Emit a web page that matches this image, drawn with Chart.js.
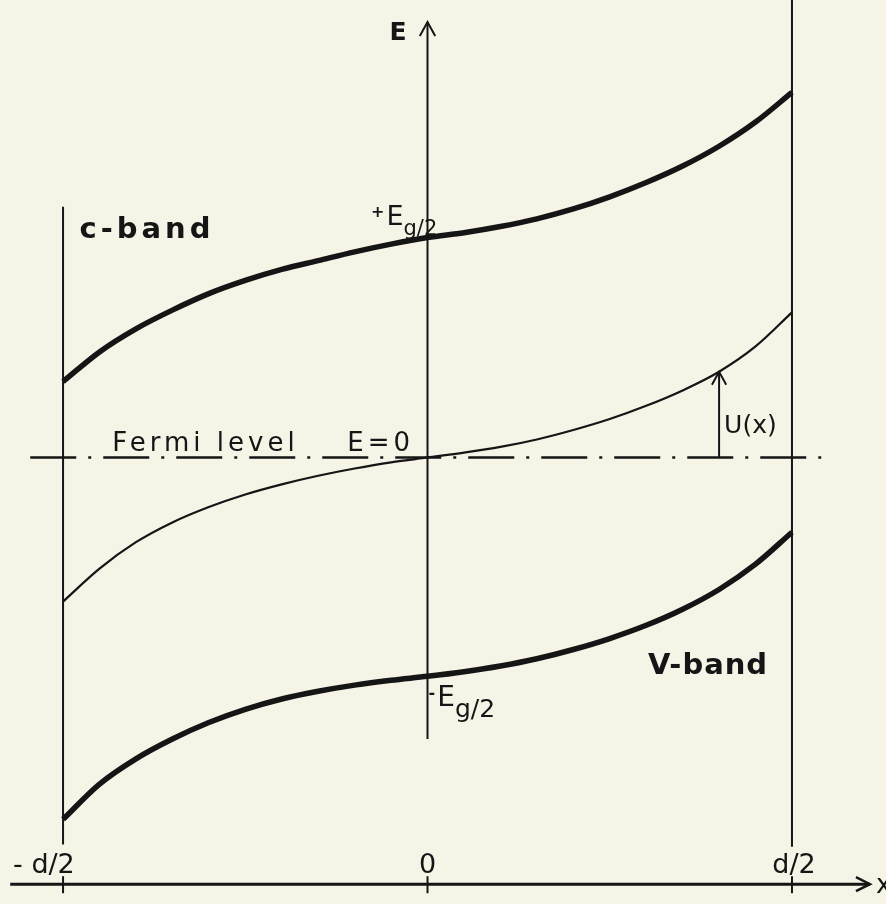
<!DOCTYPE html>
<html>
<head>
<meta charset="utf-8">
<script src="https://cdn.jsdelivr.net/npm/chart.js@4.4.1/dist/chart.umd.min.js"></script>
<style>
  html, body { margin: 0; padding: 0; background: #f6f4e7; }
  canvas { display: block; }
</style>
</head>
<body>
<canvas id="bandChart" width="886" height="904"></canvas>
<script>
// position x en unités de d/2
const xPos = [-1, -0.9, -0.8, -0.7, -0.6, -0.5, -0.4, -0.3, -0.2, -0.1, 0,
              0.1, 0.2, 0.3, 0.4, 0.5, 0.6, 0.7, 0.8, 0.9, 1];
// énergies en unités de Eg/2
const cBand = [0.345, 0.48, 0.585, 0.67, 0.745, 0.805, 0.855, 0.895, 0.935, 0.97, 1.0,
               1.022, 1.05, 1.085, 1.13, 1.185, 1.25, 1.325, 1.415, 1.525, 1.66];
const uLevel = [-0.655, -0.505, -0.385, -0.295, -0.225, -0.168, -0.122, -0.083, -0.05, -0.022, 0,
                0.022, 0.048, 0.082, 0.125, 0.175, 0.235, 0.305, 0.39, 0.505, 0.66];
const vBand = [-1.645, -1.485, -1.37, -1.28, -1.205, -1.145, -1.098, -1.063, -1.035, -1.013, -0.995,
               -0.974, -0.948, -0.915, -0.873, -0.823, -0.763, -0.69, -0.6, -0.485, -0.34];
const xTickLabels = ['- d/2', '0', 'd/2'];
const xTickValues = [-1, 0, 1];
const uArrowIndex = 18; // flèche U(x) à x = 0.8

const ink = '#151515';

function toPoints(ys) {
    return xPos.map((x, i) => ({ x: x, y: ys[i] }));
}

function arrowHead(ctx, x, y, dir, size) {
    // dir: 'up' ou 'right'
    ctx.beginPath();
    if (dir === 'up') {
        ctx.moveTo(x - size * 0.55, y + size);
        ctx.lineTo(x, y);
        ctx.lineTo(x + size * 0.55, y + size);
    } else {
        ctx.moveTo(x - size, y - size * 0.5);
        ctx.lineTo(x, y);
        ctx.lineTo(x - size, y + size * 0.5);
    }
    ctx.stroke();
}

function subLabel(ctx, sign, x, y, big, small) {
    // E avec indice g/2
    ctx.textBaseline = 'alphabetic';
    ctx.textAlign = 'left';
    let cx = x;
    if (sign) {
        ctx.font = 'bold 16px "DejaVu Sans"';
        ctx.fillText(sign, cx, y - 8);
        cx += ctx.measureText(sign).width + 2;
    }
    ctx.font = big + 'px "DejaVu Sans"';
    ctx.fillText('E', cx, y);
    cx += ctx.measureText('E').width;
    ctx.font = small + 'px "DejaVu Sans"';
    ctx.fillText('g/2', cx, y + small * 0.45);
}

const schemaPlugin = {
    id: 'schema',
    beforeDraw(chart) {
        const ctx = chart.ctx;
        ctx.save();
        ctx.fillStyle = '#f6f4e7';
        ctx.fillRect(0, 0, chart.width, chart.height);
        ctx.restore();
    },
    beforeDatasetsDraw(chart) {
        const ctx = chart.ctx;
        const sx = chart.scales.x, sy = chart.scales.y;
        const px = v => sx.getPixelForValue(v);
        const py = v => sy.getPixelForValue(v);
        ctx.save();
        ctx.strokeStyle = ink;
        ctx.lineCap = 'butt';

        // bords du film x = -d/2 et x = d/2
        ctx.lineWidth = 2;
        ctx.beginPath();
        ctx.moveTo(px(-1), py(1.14)); ctx.lineTo(px(-1), py(-1.76));
        ctx.moveTo(px(1), py(2.1)); ctx.lineTo(px(1), py(-1.77));
        ctx.stroke();

        // axe E
        ctx.beginPath();
        ctx.moveTo(px(0), py(1.98)); ctx.lineTo(px(0), py(-1.28));
        ctx.stroke();
        arrowHead(ctx, px(0), py(1.98), 'up', 14);

        // niveau de Fermi (tiret-point)
        ctx.lineWidth = 2.5;
        ctx.setLineDash([46, 12, 3, 12]);
        ctx.beginPath();
        ctx.moveTo(px(-1.09), py(0)); ctx.lineTo(px(1.104), py(0));
        ctx.stroke();
        ctx.setLineDash([]);

        // axe x
        ctx.lineWidth = 3;
        const yAx = py(-1.94);
        ctx.beginPath();
        ctx.moveTo(px(-1.145), yAx); ctx.lineTo(px(1.214), yAx);
        ctx.stroke();
        ctx.lineWidth = 2.5;
        arrowHead(ctx, px(1.214), yAx, 'right', 14);
        ctx.lineWidth = 2;
        xTickValues.forEach(v => {
            ctx.beginPath();
            ctx.moveTo(px(v), yAx - 8); ctx.lineTo(px(v), yAx + 9);
            ctx.stroke();
        });
        ctx.restore();
    },
    afterDatasetsDraw(chart) {
        const ctx = chart.ctx;
        const sx = chart.scales.x, sy = chart.scales.y;
        const px = v => sx.getPixelForValue(v);
        const py = v => sy.getPixelForValue(v);
        ctx.save();
        ctx.fillStyle = ink;
        ctx.strokeStyle = ink;

        // flèche U(x)
        ctx.lineWidth = 2;
        arrowHead(ctx, px(xPos[uArrowIndex]), py(uLevel[uArrowIndex]), 'up', 13);

        // graduations
        ctx.font = '27px "DejaVu Sans"';
        ctx.textBaseline = 'alphabetic';
        const yLab = py(-1.94) - 11;
        ctx.textAlign = 'left';
        ctx.fillText(xTickLabels[0], px(-1) - 50, yLab);
        ctx.textAlign = 'center';
        ctx.fillText(xTickLabels[1], px(0), yLab);
        ctx.fillText(xTickLabels[2], px(1) + 2, yLab);
        ctx.textAlign = 'left';
        ctx.font = '26px "DejaVu Sans"';
        ctx.fillText('x', px(1.214) + 6, py(-1.94) + 9);

        // axe E
        ctx.font = 'bold 25px "DejaVu Sans"';
        ctx.fillText('E', px(0) - 38, py(1.9));

        // bandes
        ctx.font = 'bold 29px "DejaVu Sans"';
        ctx.letterSpacing = '4px';
        ctx.fillText('c-band', px(-0.955), py(1.0));
        ctx.letterSpacing = '1px';
        ctx.fillText('V-band', px(0.605), py(-0.985));
        ctx.letterSpacing = '0px';

        // +Eg/2 et -Eg/2
        subLabel(ctx, '+', px(-0.155), py(1.055), 27, 21);
        subLabel(ctx, '-', px(0.003), py(-1.13), 28, 25);

        // U(x)
        ctx.font = '25px "DejaVu Sans"';
        ctx.fillText('U(x)', px(xPos[uArrowIndex]) + 5, py(0.11));

        // Fermi level / E=0
        ctx.font = '26px "DejaVu Sans"';
        ctx.letterSpacing = '4px';
        ctx.fillText('Fermi level', px(-0.865), py(0.03));
        ctx.fillText('E=0', px(-0.22), py(0.03));
        ctx.restore();
    }
};

const config = {
    type: 'line',
    data: {
        datasets: [
            {
                label: 'c-band',
                data: toPoints(cBand),
                borderColor: ink,
                borderWidth: 5.5,
                pointRadius: 0,
                cubicInterpolationMode: 'monotone'
            },
            {
                label: 'U(x)',
                data: toPoints(uLevel),
                borderColor: ink,
                borderWidth: 2.2,
                pointRadius: 0,
                cubicInterpolationMode: 'monotone'
            },
            {
                label: 'V-band',
                data: toPoints(vBand),
                borderColor: ink,
                borderWidth: 5.5,
                pointRadius: 0,
                cubicInterpolationMode: 'monotone'
            },
            {
                label: 'U(x) arrow',
                data: [{ x: xPos[uArrowIndex], y: 0 }, { x: xPos[uArrowIndex], y: uLevel[uArrowIndex] }],
                borderColor: ink,
                borderWidth: 2,
                pointRadius: 0
            }
        ]
    },
    options: {
        responsive: false,
        animation: false,
        layout: { padding: 0 },
        scales: {
            x: { type: 'linear', min: -1.173, max: 1.258, display: false },
            y: { type: 'linear', min: -2.03, max: 2.08, display: false }
        },
        plugins: {
            legend: { display: false },
            tooltip: { enabled: false }
        }
    },
    plugins: [schemaPlugin]
};

new Chart(document.getElementById('bandChart').getContext('2d'), config);
</script>
</body>
</html>
